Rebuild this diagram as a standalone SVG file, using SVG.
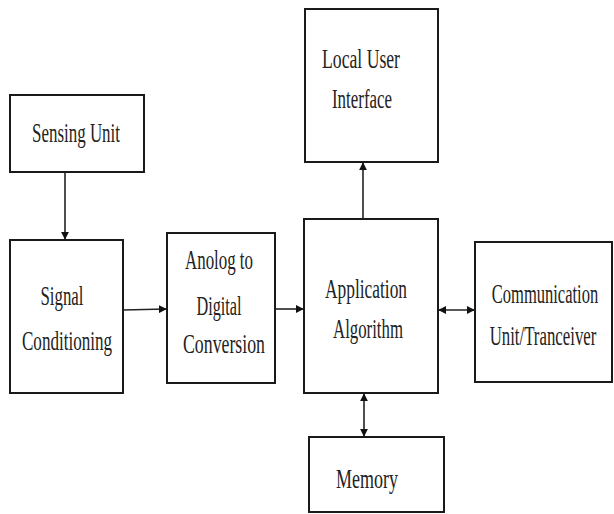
<svg xmlns="http://www.w3.org/2000/svg" width="614" height="514" viewBox="0 0 614 514">
<style>
.box{fill:#fff;stroke:#1a1a1a;stroke-width:2}
.t{font-family:"Liberation Serif","Times New Roman",serif;font-size:28px;fill:#222;text-anchor:middle}
.c{stroke:#222;stroke-width:1.6;fill:none}
</style>
<defs>
<marker id="ah" viewBox="0 0 10 10" refX="9" refY="5" markerWidth="8" markerHeight="8" markerUnits="userSpaceOnUse" orient="auto-start-reverse">
<path d="M0,0 L10,5 L0,10 z" fill="#111"/>
</marker>
</defs>
<rect width="614" height="514" fill="#fff"/>
<g id="sensing">
<rect class="box" x="10" y="95" width="134" height="77"/>
<text class="t" x="76" y="142" textLength="88" lengthAdjust="spacingAndGlyphs">Sensing Unit</text>
</g>
<g id="signal">
<rect class="box" x="10" y="240" width="113" height="153"/>
<text class="t" x="62" y="305" textLength="43" lengthAdjust="spacingAndGlyphs">Signal</text>
<text class="t" x="67" y="350" textLength="90" lengthAdjust="spacingAndGlyphs">Conditioning</text>
</g>
<g id="adc">
<rect class="box" x="167" y="233" width="108" height="150"/>
<text class="t" x="219" y="269" textLength="68" lengthAdjust="spacingAndGlyphs">Anolog to</text>
<text class="t" x="219" y="315" textLength="45" lengthAdjust="spacingAndGlyphs">Digital</text>
<text class="t" x="224" y="353" textLength="82" lengthAdjust="spacingAndGlyphs">Conversion</text>
</g>
<g id="ui">
<rect class="box" x="305" y="9" width="133" height="153"/>
<text class="t" x="361" y="68" textLength="78" lengthAdjust="spacingAndGlyphs">Local User</text>
<text class="t" x="362" y="108" textLength="60" lengthAdjust="spacingAndGlyphs">Interface</text>
</g>
<g id="app">
<rect class="box" x="304" y="219" width="134" height="174"/>
<text class="t" x="366" y="298" textLength="82" lengthAdjust="spacingAndGlyphs">Application</text>
<text class="t" x="368" y="338" textLength="70" lengthAdjust="spacingAndGlyphs">Algorithm</text>
</g>
<g id="comm">
<rect class="box" x="475" y="242" width="137" height="140"/>
<g transform="translate(545,0) scale(0.59,1)">
<text class="t" x="0" y="303">Communication</text>
</g>
<g transform="translate(543,0) scale(0.6,1)">
<text class="t" x="0" y="345">Unit/Tranceiver</text>
</g>
</g>
<g id="memory">
<rect class="box" x="309" y="437" width="135" height="75"/>
<text class="t" x="367" y="488" textLength="62" lengthAdjust="spacingAndGlyphs">Memory</text>
</g>
<g id="connectors">
<line class="c" x1="65" y1="172" x2="65" y2="239" marker-end="url(#ah)"/>
<line class="c" x1="123" y1="310" x2="166" y2="309" marker-end="url(#ah)"/>
<line class="c" x1="275" y1="309" x2="303" y2="309" marker-end="url(#ah)"/>
<line class="c" x1="363" y1="219" x2="363" y2="163" marker-end="url(#ah)"/>
<line class="c" x1="439" y1="310" x2="474" y2="310" marker-start="url(#ah)" marker-end="url(#ah)"/>
<line class="c" x1="364" y1="394" x2="364" y2="436" marker-start="url(#ah)" marker-end="url(#ah)"/>
</g>
</svg>
